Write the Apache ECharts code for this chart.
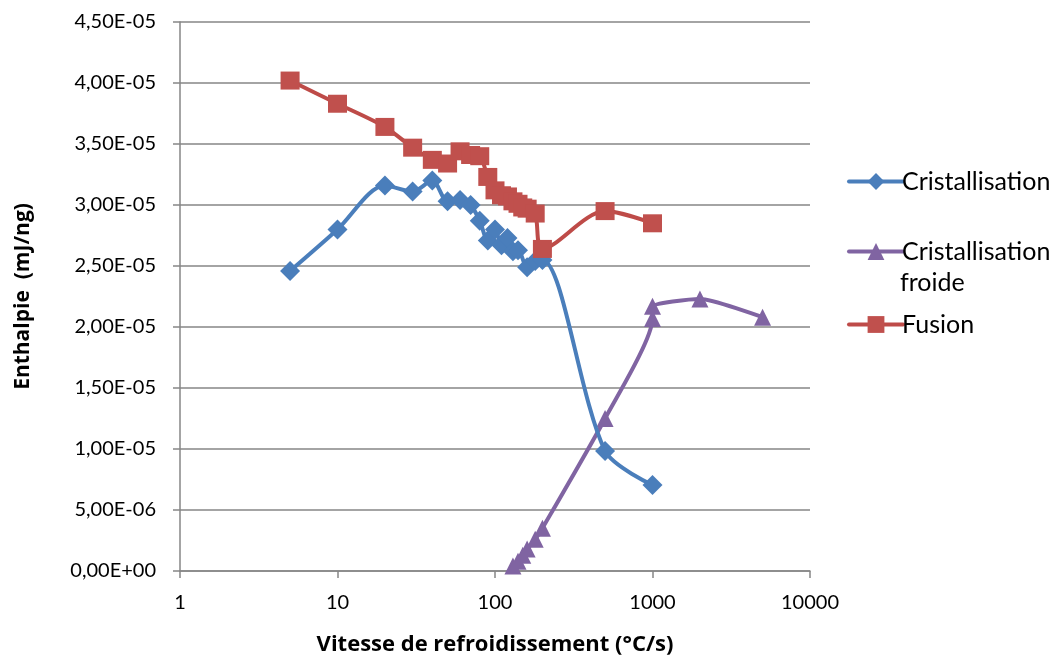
<!DOCTYPE html>
<html><head><meta charset="utf-8">
<script src="https://cdn.jsdelivr.net/npm/echarts@6/dist/echarts.min.js"></script>
<style>html,body{margin:0;padding:0;background:#fff}#c{width:1053px;height:662px}</style>
</head><body><div id="c"></div>
<script>
// Data
const cristX = [5,10,20,30,40,50,60,70,80,90,100,110,120,130,140,160,180,200,500,1000];
const cristY = [2.46e-5,2.80e-5,3.16e-5,3.11e-5,3.20e-5,3.03e-5,3.04e-5,3.00e-5,2.87e-5,2.71e-5,2.80e-5,2.67e-5,2.73e-5,2.62e-5,2.63e-5,2.49e-5,2.54e-5,2.55e-5,9.84e-6,7.05e-6];
const froideX = [130,140,150,160,180,200,500,1000,1000,2000,5000];
const froideY = [4e-7,8e-7,1.3e-6,1.8e-6,2.6e-6,3.5e-6,1.25e-5,2.07e-5,2.17e-5,2.23e-5,2.08e-5];
const fusionX = [5,10,20,30,40,50,60,70,80,90,100,110,120,130,140,150,160,180,200,500,1000];
const fusionY = [4.02e-5,3.83e-5,3.64e-5,3.47e-5,3.37e-5,3.34e-5,3.44e-5,3.41e-5,3.40e-5,3.23e-5,3.12e-5,3.08e-5,3.07e-5,3.03e-5,3.01e-5,2.98e-5,2.97e-5,2.93e-5,2.64e-5,2.95e-5,2.85e-5];
const xTicks = [1,10,100,1000,10000];
const seriesNames = ['Cristallisation','Cristallisation froide','Fusion'];

const pair = (xs, ys) => xs.map((x, i) => [x, ys[i]]);
const FONT = 'Lato';
const NAMEFONT = 'Open Sans';
function fmtY(v){
  if (v === 0) return '0,00E+00';
  const e = Math.floor(Math.log10(Math.abs(v)) + 1e-9);
  const m = v / Math.pow(10, e);
  const es = (e < 0 ? '-' : '+') + String(Math.abs(e)).padStart(2,'0');
  return m.toFixed(2).replace('.', ',') + 'E' + es;
}
const chart = echarts.init(document.getElementById('c'), null, {renderer:'canvas'});
const legendBase = {
  orient:'vertical', left: 842, itemWidth: 54, itemHeight: 21, itemGap: 0,
  textStyle:{fontFamily:FONT, fontSize:25, color:'#000', padding:[0,0,0,-6]},
  lineStyle:{width:4, cap:'round'},
  selectedMode:false
};
chart.setOption({
  animation:false,
  backgroundColor:'#fff',
  grid:{left:180, right:243, top:22, bottom:91, containLabel:false},
  legend:[
    Object.assign({}, legendBase, {top:164, data:[seriesNames[0]]}),
    Object.assign({}, legendBase, {top:234, data:[seriesNames[1]], formatter:()=> 'Cristallisation'}),
    Object.assign({}, legendBase, {top:307, data:[seriesNames[2]]})
  ],
  graphic:[{type:'text', left:900, top:270, style:{text:'froide', font:'25px Lato', fill:'#000'}}],
  xAxis:{
    type:'log', logBase:10, min:xTicks[0], max:xTicks[xTicks.length-1],
    name:'Vitesse de refroidissement (°C/s)', nameLocation:'middle', nameGap:63,
    nameTextStyle:{fontFamily:NAMEFONT, fontSize:22, fontWeight:'bold', color:'#000'},
    axisLine:{show:true, lineStyle:{color:'#868686', width:1.5}},
    axisTick:{show:true, inside:false, length:7, lineStyle:{color:'#868686', width:1.5}},
    minorTick:{show:false},
    splitLine:{show:false},
    axisLabel:{fontFamily:FONT, fontSize:20, color:'#000', margin:22, formatter:(v)=>String(Math.round(v))}
  },
  yAxis:{
    type:'value', min:0, max:4.5e-5, interval:5e-6,
    name:'Enthalpie  (mJ/ng)', nameLocation:'middle', nameGap:146,
    nameTextStyle:{fontFamily:NAMEFONT, fontSize:21, fontWeight:'bold', color:'#000'},
    axisLine:{show:true, lineStyle:{color:'#868686', width:1.5}},
    axisTick:{show:true, inside:false, length:7, lineStyle:{color:'#868686', width:1.5}},
    splitLine:{show:true, lineStyle:{color:'#868686', width:1.5}},
    axisLabel:{fontFamily:FONT, fontSize:20, color:'#000', margin:24, formatter:fmtY}
  },
  series:[
    {name:seriesNames[1], type:'line', data:pair(froideX, froideY), smooth:0.2,
     symbol:'triangle', symbolSize:17, z:2,
     lineStyle:{color:'#8064A2', width:4}, itemStyle:{color:'#8064A2'}},
    {name:seriesNames[0], type:'line', data:pair(cristX, cristY), smooth:0.3,
     symbol:'diamond', symbolSize:[20,20], z:3,
     lineStyle:{color:'#4A7EBB', width:4}, itemStyle:{color:'#4A7EBB'}},
    {name:seriesNames[2], type:'line', data:pair(fusionX, fusionY), smooth:0.3,
     symbol:'rect', symbolSize:[19,18], z:4,
     lineStyle:{color:'#BE4B48', width:4}, itemStyle:{color:'#C0504D'}}
  ]
});
</script></body></html>
